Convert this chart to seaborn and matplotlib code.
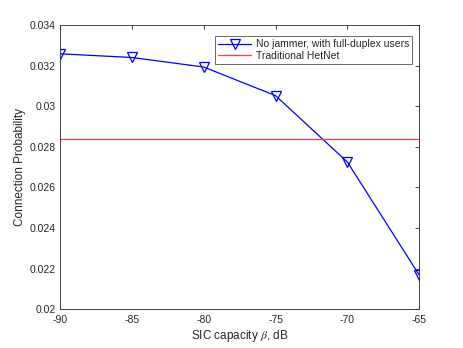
import matplotlib
matplotlib.use("Agg")
from matplotlib import pyplot as plt
import pandas as pd
import seaborn as sns

# SIC capacity (dB) and connection probability
sic_capacity = [-90, -85, -80, -75, -70, -65]
prob_full_duplex = [0.03258, 0.03240, 0.03193, 0.03052, 0.02725, 0.02168]
prob_traditional = 0.02837

x_ticks = [-90, -85, -80, -75, -70, -65]
y_ticks = [0.02, 0.022, 0.024, 0.026, 0.028, 0.03, 0.032, 0.034]
y_tick_labels = ["0.02", "0.022", "0.024", "0.026", "0.028", "0.03", "0.032", "0.034"]

sns.set_style("white")
plt.rcParams['font.family'] = ['Liberation Sans', 'DejaVu Sans']
plt.rcParams['mathtext.fontset'] = 'stix'

fig = plt.figure(figsize=(4.63, 3.48), dpi=100)
ax = fig.add_axes([0.1296, 0.1112, 0.776, 0.817])

df = pd.DataFrame({'x': sic_capacity, 'y': prob_full_duplex})
sns.lineplot(data=df, x='x', y='y', ax=ax, color='#0000ff', linewidth=0.9,
             marker='v', markersize=6.5, markerfacecolor='none',
             markeredgecolor='#0000ff', markeredgewidth=0.9,
             label='No jammer, with full-duplex users')
ax.axhline(prob_traditional, color='#ff3b3b', linewidth=0.9, label='Traditional HetNet')

ax.set_xlim(-90, -65)
ax.set_ylim(0.02, 0.034)
ax.set_xticks(x_ticks)
ax.set_xticklabels([str(t) for t in x_ticks])
ax.set_yticks(y_ticks)
ax.set_yticklabels(y_tick_labels)

ax.tick_params(direction='in', length=3, width=0.6, labelsize=7.5,
               colors='#262626', top=True, right=True)
ax.tick_params(axis='x', pad=4)
ax.tick_params(axis='y', pad=3)
for s in ax.spines.values():
    s.set_visible(True)
    s.set_color('#262626')
    s.set_linewidth(0.6)

ax.set_xlabel(r'SIC capacity $\beta$, dB', fontsize=8.5, color='#262626', labelpad=2)
ax.set_ylabel('Connection Probability', fontsize=8.5, color='#262626', labelpad=3)

leg = ax.legend(loc='upper right', bbox_to_anchor=(0.98, 0.96), fontsize=7.5,
                frameon=True, fancybox=False, borderpad=0.3, labelspacing=0.1,
                handlelength=3.2, handletextpad=0.4, borderaxespad=0)
leg.get_frame().set_edgecolor('#262626')
leg.get_frame().set_linewidth(0.6)

fig.savefig('out.png', dpi=100)
